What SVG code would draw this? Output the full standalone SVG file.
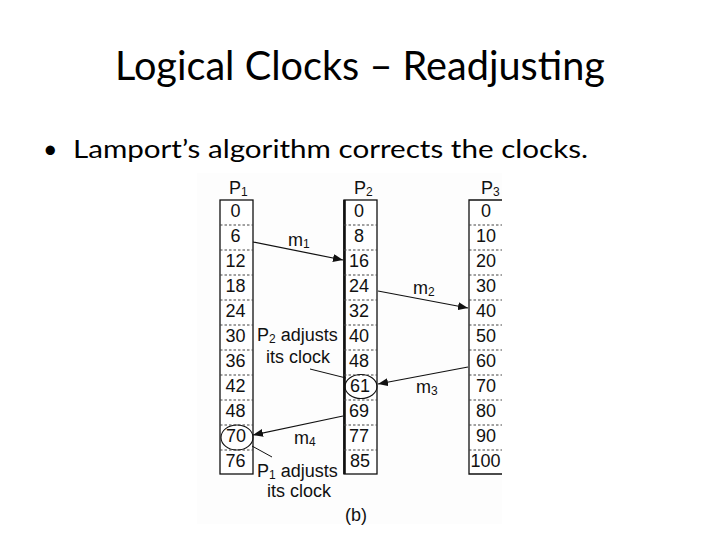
<svg xmlns="http://www.w3.org/2000/svg" width="720" height="540" viewBox="0 0 720 540">
<defs>
<marker id="ah" viewBox="0 0 10 8" refX="10" refY="4" markerWidth="10" markerHeight="8" markerUnits="userSpaceOnUse" orient="auto">
<path d="M0,0 L10,4 L0,8 Z" fill="#111"/>
</marker>
<style>
.title{font-family:Lato,"Open Sans","Liberation Sans",sans-serif;fill:#000}
.t{font-family:"Liberation Sans",Arial,sans-serif;font-size:18px;fill:#111}
.num{font-family:"Liberation Sans",Arial,sans-serif;font-size:18px;fill:#111;text-anchor:middle}
.col{fill:#fff;stroke:#111;stroke-width:1.3}
.sep{stroke:#444;stroke-width:1;stroke-dasharray:2.5 2}
.msg{stroke:#111;stroke-width:1.2;fill:none;marker-end:url(#ah)}
.ptr{stroke:#111;stroke-width:1;fill:none}
.ell{stroke:#111;stroke-width:1.1;fill:none}
</style>
</defs>
<rect width="720" height="540" fill="#fff"/>
<text class="title" x="115" y="80" font-size="40" textLength="490" lengthAdjust="spacingAndGlyphs">Logical Clocks – Readjusting</text>
<text class="title" x="43" y="158" font-size="25">•</text>
<text class="title" x="73" y="158" font-size="25.5" textLength="515" lengthAdjust="spacingAndGlyphs">Lamport’s algorithm corrects the clocks.</text>
<rect x="197" y="173" width="305" height="351" fill="#fdfdfd"/>
<g id="P1">
<text class="t" x="229" y="194">P<tspan font-size="12" dy="2">1</tspan></text>
<rect class="col" x="220" y="200" width="33" height="274"/>
<path class="sep" d="M220,225H253M220,250H253M220,275H253M220,300H253M220,325H253M220,350H253M220,375H253M220,400H253M220,425H253M220,450H253"/>
<text class="num" x="235.5" y="217">0</text>
<text class="num" x="235.5" y="242">6</text>
<text class="num" x="235.5" y="267">12</text>
<text class="num" x="235.5" y="292">18</text>
<text class="num" x="235.5" y="317">24</text>
<text class="num" x="235.5" y="342">30</text>
<text class="num" x="235.5" y="367">36</text>
<text class="num" x="235.5" y="392">42</text>
<text class="num" x="235.5" y="417">48</text>
<text class="num" x="236" y="442">70</text>
<text class="num" x="235.5" y="467">76</text>
</g>
<g id="P2">
<text class="t" x="354" y="194">P<tspan font-size="12" dy="2">2</tspan></text>
<rect class="col" x="344" y="200" width="33" height="274"/>
<line x1="344.5" y1="200" x2="344.5" y2="474" stroke="#111" stroke-width="2.6"/>
<path class="sep" d="M344,225H377M344,250H377M344,275H377M344,300H377M344,325H377M344,350H377M344,375H377M344,400H377M344,425H377M344,450H377"/>
<text class="num" x="359" y="217">0</text>
<text class="num" x="359" y="242">8</text>
<text class="num" x="359" y="267">16</text>
<text class="num" x="359" y="292">24</text>
<text class="num" x="359" y="317">32</text>
<text class="num" x="359" y="342">40</text>
<text class="num" x="359" y="367">48</text>
<text class="num" x="360" y="392">61</text>
<text class="num" x="359" y="417">69</text>
<text class="num" x="359" y="442">77</text>
<text class="num" x="360" y="467">85</text>
</g>
<g id="P3">
<text class="t" x="481" y="194">P<tspan font-size="12" dy="2">3</tspan></text>
<path d="M502,200H469V474H502" fill="#fff" stroke="#111" stroke-width="1.3"/>
<path class="sep" d="M469,225H502M469,250H502M469,275H502M469,300H502M469,325H502M469,350H502M469,375H502M469,400H502M469,425H502M469,450H502"/>
<text class="num" x="486" y="217">0</text>
<text class="num" x="486" y="242">10</text>
<text class="num" x="486" y="267">20</text>
<text class="num" x="486" y="292">30</text>
<text class="num" x="486" y="317">40</text>
<text class="num" x="486" y="342">50</text>
<text class="num" x="486" y="367">60</text>
<text class="num" x="486" y="392">70</text>
<text class="num" x="486" y="417">80</text>
<text class="num" x="486" y="442">90</text>
<text class="num" x="485.5" y="467">100</text>
</g>
<g id="connectors">
<line class="msg" x1="253" y1="242" x2="343" y2="260"/>
<line class="msg" x1="378" y1="291" x2="468" y2="308"/>
<line class="msg" x1="468" y1="367" x2="378" y2="384"/>
<line class="msg" x1="343" y1="416" x2="253" y2="435"/>
<line class="ptr" x1="310" y1="369" x2="346" y2="378"/>
<line class="ptr" x1="252" y1="446" x2="272" y2="457"/>
</g>
<g id="labels">
<text class="t" x="288" y="246">m<tspan font-size="12" dy="2">1</tspan></text>
<text class="t" x="413" y="294">m<tspan font-size="12" dy="2">2</tspan></text>
<text class="t" x="416" y="393">m<tspan font-size="12" dy="2">3</tspan></text>
<text class="t" x="294" y="444">m<tspan font-size="12" dy="2">4</tspan></text>
</g>
<g id="adjust2">
<ellipse class="ell" cx="361" cy="386.5" rx="16" ry="12"/>
<text class="t" x="257" y="341">P<tspan font-size="12" dy="2">2</tspan><tspan dy="-2"> adjusts</tspan></text>
<text class="t" x="298" y="363" text-anchor="middle">its clock</text>
</g>
<g id="adjust1">
<ellipse class="ell" cx="237" cy="437.5" rx="16" ry="12.5"/>
<text class="t" x="257" y="477">P<tspan font-size="12" dy="2">1</tspan><tspan dy="-2"> adjusts</tspan></text>
<text class="t" x="299" y="497" text-anchor="middle">its clock</text>
</g>
<text class="t" x="345" y="521">(b)</text>
</svg>
